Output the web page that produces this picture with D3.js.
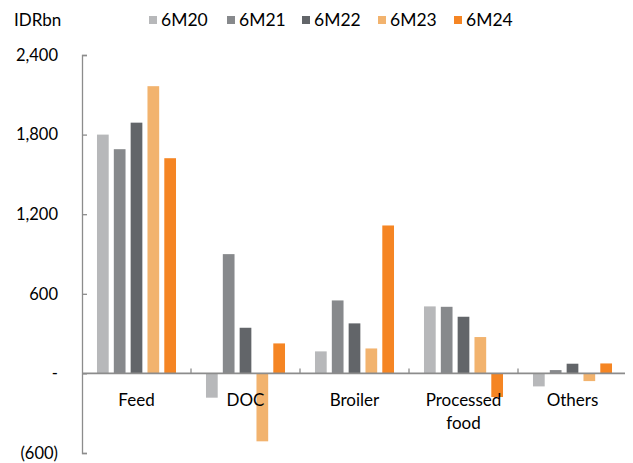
<!DOCTYPE html>
<html><head><meta charset="utf-8">
<script src="https://cdn.jsdelivr.net/npm/d3@7"></script>
<style>body{margin:0;background:#fff}svg{display:block}text{font-family:Lato,"Open Sans",sans-serif;fill:#000}</style>
</head><body><svg id="c" width="633" height="463"></svg>
<script>
const categories = ["Feed","DOC","Broiler","Processed food","Others"];
const seriesNames = ["6M20","6M21","6M22","6M23","6M24"];
const s6M20 = [1800,-183,166,505,-98];
const s6M21 = [1690,899,550,502,25];
const s6M22 = [1890,344,377,427,73];
const s6M23 = [2165,-512,188,274,-58];
const s6M24 = [1622,226,1115,-178,75];
const yTicks = [-600,0,600,1200,1800,2400];
const colors = ["#b7b8ba","#87898c","#626569","#f2b36e","#f58523"];
const values = [s6M20,s6M21,s6M22,s6M23,s6M24];

const svg = d3.select("#c");
const L = 82, R = 627, T = 55, B = 453;
const y = d3.scaleLinear().domain([-600,2400]).range([B,T]);
const x0 = d3.scaleBand().domain(categories).range([L,R]).paddingInner(0.275).paddingOuter(0.1375);
const x1 = d3.scaleBand().domain(seriesNames).range([0,x0.bandwidth()]).paddingInner(0.304).paddingOuter(0);

const fmt = d3.format(",");
const yAxis = d3.axisLeft(y).tickValues(yTicks).tickSize(-5).tickSizeOuter(-5).tickPadding(24)
  .tickFormat(d => d < 0 ? `(${fmt(-d)})` : d === 0 ? "-" : fmt(d));
const gy = svg.append("g").attr("transform",`translate(${L},0)`).call(yAxis);
gy.selectAll("path,line").attr("stroke","#8c8c8c").attr("stroke-width",1.3);
gy.selectAll("text").attr("font-size",16.5).attr("font-family","Lato, 'Open Sans', sans-serif").attr("fill","#000");

// bars
categories.forEach((c,i) => {
  seriesNames.forEach((s,j) => {
    const v = values[j][i];
    svg.append("rect")
      .attr("x", x0(c) + x1(s))
      .attr("width", x1.bandwidth())
      .attr("y", y(Math.max(0,v)))
      .attr("height", Math.abs(y(v) - y(0)))
      .attr("fill", colors[j]);
  });
});

// x axis line + category ticks
svg.append("line").attr("x1",L).attr("x2",R-2).attr("y1",y(0)).attr("y2",y(0))
  .attr("stroke","#8c8c8c").attr("stroke-width",1.6);
const step = x0.step();
categories.slice(1).forEach(c => {
  const bx = x0(c) - step*x0.paddingInner()/2;
  svg.append("line").attr("x1",bx).attr("x2",bx).attr("y1",y(0)-5).attr("y2",y(0))
    .attr("stroke","#8c8c8c").attr("stroke-width",1.3);
});

// category labels
categories.forEach(c => {
  const cx = x0(c) + x0.bandwidth()/2;
  const words = c === "Processed food" ? ["Processed","food"] : [c];
  words.forEach((w,k) => {
    svg.append("text").attr("x",cx).attr("y",y(0)+33 + k*23)
      .attr("text-anchor","middle").attr("font-size",17).text(w);
  });
});

// title
svg.append("text").attr("x",14).attr("y",26).attr("font-size",17).text("IDRbn");

// legend
const legX = [149,227,302,378,454];
seriesNames.forEach((s,j) => {
  svg.append("rect").attr("x",legX[j]).attr("y",16).attr("width",8).attr("height",8).attr("fill",colors[j]);
  svg.append("text").attr("x",legX[j]+12).attr("y",26).attr("font-size",17.5).text(s);
});
</script></body></html>
